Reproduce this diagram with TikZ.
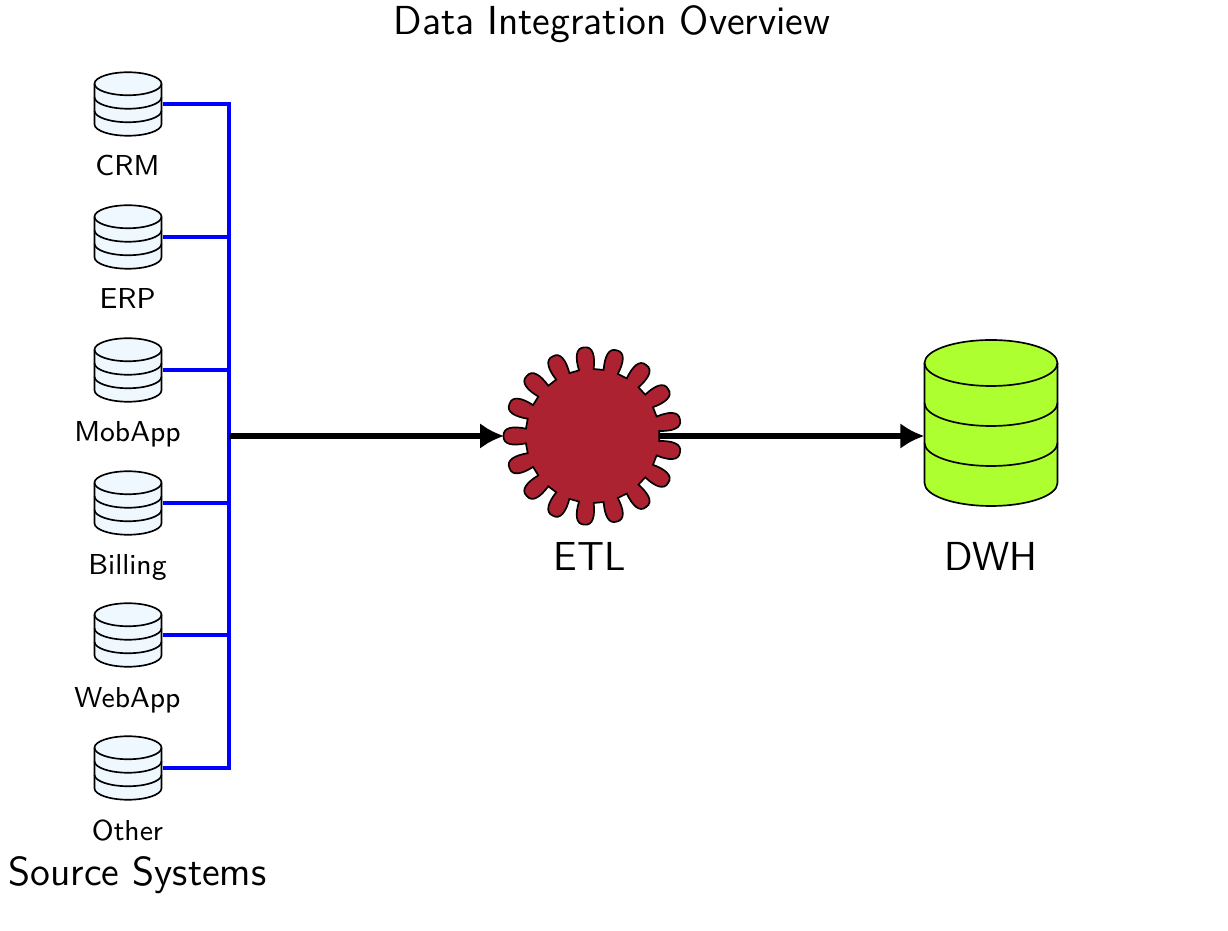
\documentclass[tikz,border=0pt]{standalone}
\usepackage{tikz}
\usetikzlibrary{arrows.meta,positioning}

\definecolor{dbblue}{HTML}{EFF7FF}
\definecolor{dwhgreen}{HTML}{ADFF2F}
\definecolor{etlred}{HTML}{AC2230}

\tikzset{
  srcbox/.style={inner sep=0pt,outer sep=0pt,minimum width=21pt,minimum height=12pt},
  srclabel/.style={anchor=base,font=\sffamily\fontsize{8.65}{10}\selectfont},
  biglabel/.style={anchor=base,font=\sffamily\fontsize{12.15}{14}\selectfont},
  feed/.style={blue,line width=0.95pt},
  flow/.style={line width=2pt,-{Latex[length=7.2pt,width=7.8pt]}},
  dbline/.style={line width=0.5pt},
  pics/dbstack/.style n args={4}{code={
    \draw[dbline,fill=#4] ({-#1},{1.5*#3})
      arc[start angle=180,end angle=0,x radius=#1,y radius=#2]
      -- ({#1},{-1.5*#3})
      arc[start angle=0,end angle=-180,x radius=#1,y radius=#2] -- cycle;
    \draw[dbline] ({-#1},{1.5*#3}) arc[start angle=180,end angle=360,x radius=#1,y radius=#2];
    \draw[dbline] ({-#1},{0.5*#3}) arc[start angle=180,end angle=360,x radius=#1,y radius=#2];
    \draw[dbline] ({-#1},{-0.5*#3}) arc[start angle=180,end angle=360,x radius=#1,y radius=#2];
  }}
}

\begin{document}
\begin{tikzpicture}[x=0.3pt,y=0.3pt]
    \useasboundingbox (0, 0) rectangle (1228, 931);

    \node[biglabel] (title) at (612, 896) {Data Integration Overview};

    % Sources
    \node[srcbox] (crm) at (128, 827) {};
    \node[srcbox] (erp) at (128, 694) {};
    \node[srcbox] (mobapp) at (128, 561) {};
    \node[srcbox] (billing) at (128, 428) {};
    \node[srcbox] (webapp) at (128, 296) {};
    \node[srcbox] (other) at (128, 163) {};

    \pic at (crm) {dbstack={33.5}{11.5}{13.5}{dbblue}};
    \pic at (erp) {dbstack={33.5}{11.5}{13.5}{dbblue}};
    \pic at (mobapp) {dbstack={33.5}{11.5}{13.5}{dbblue}};
    \pic at (billing) {dbstack={33.5}{11.5}{13.5}{dbblue}};
    \pic at (webapp) {dbstack={33.5}{11.5}{13.5}{dbblue}};
    \pic at (other) {dbstack={33.5}{11.5}{13.5}{dbblue}};

    \node[srclabel] (crmlabel) at (127.5, 755) {CRM};
    \node[srclabel] (erplabel) at (127.5, 622) {ERP};
    \node[srclabel] (mobapplabel) at (127.5, 489) {MobApp};
    \node[srclabel] (billinglabel) at (127.5, 356) {Billing};
    \node[srclabel] (webapplabel) at (127.5, 223) {WebApp};
    \node[srclabel] (otherlabel) at (127.5, 90) {Other};
    \node[biglabel] (srclabel) at (137.5, 45) {Source Systems};

    % Feeds
    \coordinate (hub) at (229, 495);
    \draw[feed] (crm.east) -| (hub);
    \draw[feed] (erp.east) -| (hub);
    \draw[feed] (mobapp.east) -| (hub);
    \draw[feed] (billing.east) -| (hub);
    \draw[feed] (webapp.east) -| (hub);
    \draw[feed] (other.east) -| (hub);

    % ETL and DWH
    \node[circle,inner sep=0pt,outer sep=0pt,minimum size=53.1pt] (etl) at (592.5, 495) {};
    \node[inner sep=0pt,outer sep=0pt,minimum width=40pt,minimum height=6pt] (dwh) at (991, 495) {};

    \draw[flow] (hub) -- (etl.west);
    \draw[flow] (etl.center) -- (dwh.west);

    \draw[line width=0.5pt,fill=etlred,shift={(etl.center)}] (173.7:67)
      \foreach \k in {0,...,16} {
        -- ({173.7+\k*21.176}:67)
        .. controls ({172.8+\k*21.176}:80) and ({174.4+\k*21.176}:90)
        .. ({180+\k*21.176}:89)
        .. controls ({185.6+\k*21.176}:90) and ({187.2+\k*21.176}:80)
        .. ({186.3+\k*21.176}:67)
      } -- cycle;

    \pic at (991, 508) {dbstack={66.5}{23}{40}{dwhgreen}};

    \node[biglabel] (etllabel) at (590, 360) {ETL};
    \node[biglabel] (dwhlabel) at (991, 360) {DWH};
\end{tikzpicture}
\end{document}
